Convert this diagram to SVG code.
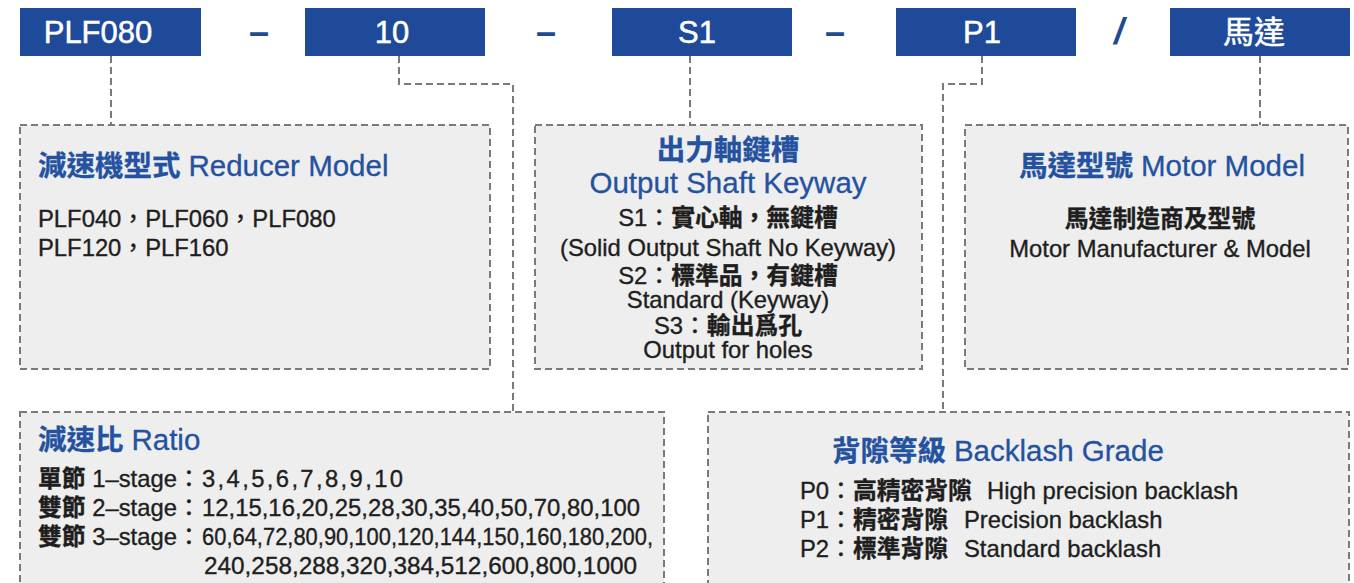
<svg xmlns="http://www.w3.org/2000/svg" width="1354" height="583" viewBox="0 0 1354 583">
<style>
text{font-family:"Liberation Sans","Noto Sans CJK TC",sans-serif;}
.hdr{fill:#1f4a9a}
.hdrt{fill:#ffffff;stroke:#ffffff;stroke-width:0.5;font-size:31px;text-anchor:middle}
.sep{fill:#1f4a9a;font-size:36px;font-weight:bold;text-anchor:middle}
.panel{fill:#eeeeee;stroke:#7a7a7a;stroke-width:2;stroke-dasharray:7 4}
.conn{fill:none;stroke:#7a7a7a;stroke-width:2;stroke-dasharray:7 4}
.title{fill:#2452a0;stroke:#2452a0;stroke-width:0.3;font-size:28.5px}
.en{font-size:29.5px}
.cjkb{font-weight:bold}
.body{fill:#1e1e1e;stroke:#1e1e1e;stroke-width:0.35;font-size:23.8px}
.mid{text-anchor:middle}
</style>
<rect x="0" y="0" width="1354" height="583" fill="#ffffff"/>

<g id="connectors">
  <path class="conn" d="M111 56 V125"/>
  <path class="conn" d="M399 56 V84 H513 V412"/>
  <path class="conn" d="M690 56 V125"/>
  <path class="conn" d="M982 56 V84 H943 V412"/>
  <path class="conn" d="M1260 56 V125"/>
</g>

<g id="code-model">
  <rect class="hdr" x="20" y="8" width="181" height="48"/>
  <text class="hdrt" x="98" y="43">PLF080</text>
</g>
<g id="sep1"><text class="sep" x="259" y="44">–</text></g>
<g id="code-ratio">
  <rect class="hdr" x="305" y="8" width="180" height="48"/>
  <text class="hdrt" x="392" y="43">10</text>
</g>
<g id="sep2"><text class="sep" x="546" y="44">–</text></g>
<g id="code-shaft">
  <rect class="hdr" x="612" y="8" width="180" height="48"/>
  <text class="hdrt" x="697" y="43">S1</text>
</g>
<g id="sep3"><text class="sep" x="835" y="44">–</text></g>
<g id="code-backlash">
  <rect class="hdr" x="896" y="8" width="180" height="48"/>
  <text class="hdrt" x="982" y="43">P1</text>
</g>
<g id="sep4"><text class="sep" x="1119" y="44" font-style="italic">/</text></g>
<g id="code-motor">
  <rect class="hdr" x="1170" y="8" width="180" height="48"/>
  <text class="hdrt" x="1254" y="43">馬達</text>
</g>

<g id="reducer-model">
  <rect class="panel" x="20" y="125" width="470" height="244"/>
  <text class="title" x="38" y="176"><tspan class="cjkb">減速機型式</tspan> <tspan class="en">Reducer Model</tspan></text>
  <text class="body" x="38" y="227">PLF040，PLF060，PLF080</text>
  <text class="body" x="38" y="256">PLF120，PLF160</text>
</g>

<g id="output-shaft">
  <rect class="panel" x="535" y="125" width="387" height="244"/>
  <text class="title mid cjkb" x="728" y="160">出力軸鍵槽</text>
  <text class="title en mid" x="728" y="193">Output Shaft Keyway</text>
  <text class="body mid" x="728" y="226">S1：<tspan class="cjkb">實心軸，無鍵槽</tspan></text>
  <text class="body mid" x="728" y="256">(Solid Output Shaft No Keyway)</text>
  <text class="body mid" x="728" y="284">S2：<tspan class="cjkb">標準品，有鍵槽</tspan></text>
  <text class="body mid" x="728" y="308">Standard (Keyway)</text>
  <text class="body mid" x="728" y="334">S3：<tspan class="cjkb">輸出爲孔</tspan></text>
  <text class="body mid" x="728" y="358">Output for holes</text>
</g>

<g id="motor-model">
  <rect class="panel" x="965" y="125" width="383" height="244"/>
  <text class="title mid" x="1162" y="176"><tspan class="cjkb">馬達型號</tspan> <tspan class="en">Motor Model</tspan></text>
  <text class="body mid cjkb" x="1160" y="227">馬達制造商及型號</text>
  <text class="body mid" x="1160" y="257">Motor Manufacturer &amp; Model</text>
</g>

<g id="ratio">
  <rect class="panel" x="20" y="412" width="644" height="200"/>
  <text class="title" x="38" y="450"><tspan class="cjkb">減速比</tspan> <tspan class="en">Ratio</tspan></text>
  <text class="body" x="38" y="487"><tspan class="cjkb">單節</tspan> 1–stage：<tspan x="202" textLength="201" lengthAdjust="spacing">3,4,5,6,7,8,9,10</tspan></text>
  <text class="body" x="38" y="516"><tspan class="cjkb">雙節</tspan> 2–stage：<tspan x="202" textLength="438" lengthAdjust="spacingAndGlyphs">12,15,16,20,25,28,30,35,40,50,70,80,100</tspan></text>
  <text class="body" x="38" y="545"><tspan class="cjkb">雙節</tspan> 3–stage：<tspan x="202" textLength="451" lengthAdjust="spacingAndGlyphs">60,64,72,80,90,100,120,144,150,160,180,200,</tspan></text>
  <text class="body" x="204" y="574" textLength="433" lengthAdjust="spacingAndGlyphs">240,258,288,320,384,512,600,800,1000</text>
</g>

<g id="backlash-grade">
  <rect class="panel" x="708" y="412" width="641" height="200"/>
  <text class="title" x="832" y="461"><tspan class="cjkb">背隙等級</tspan> <tspan class="en">Backlash Grade</tspan></text>
  <text class="body" x="800" y="499">P0：<tspan class="cjkb">高精密背隙</tspan><tspan x="987">High precision backlash</tspan></text>
  <text class="body" x="800" y="528">P1：<tspan class="cjkb">精密背隙</tspan><tspan x="964">Precision backlash</tspan></text>
  <text class="body" x="800" y="557">P2：<tspan class="cjkb">標準背隙</tspan><tspan x="964">Standard backlash</tspan></text>
</g>
</svg>
